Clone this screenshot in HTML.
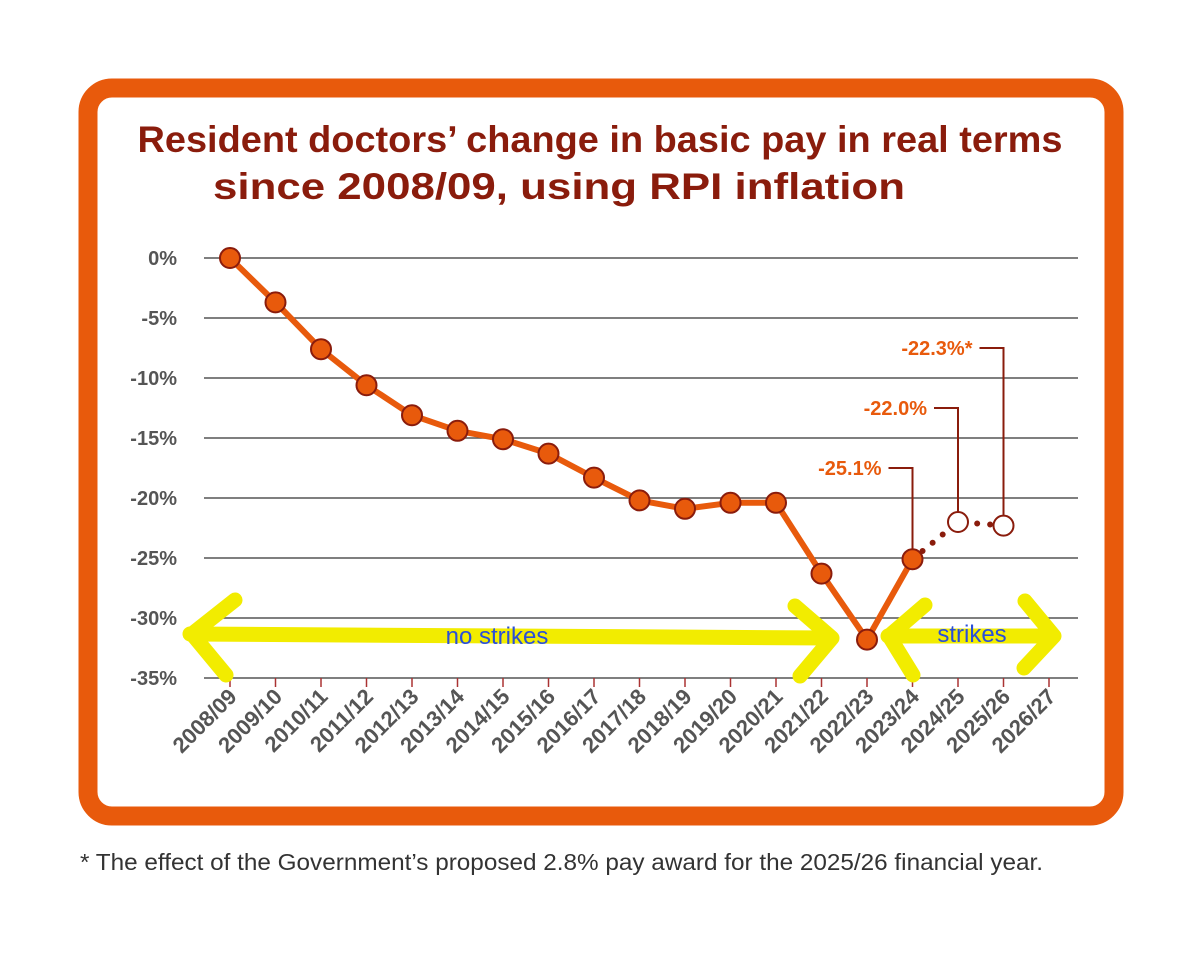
<!DOCTYPE html>
<html><head><meta charset="utf-8"><style>
body{margin:0;background:#fff;width:1200px;height:955px;overflow:hidden;font-family:"Liberation Sans",sans-serif}
</style></head><body>
<svg id="chart" width="1200" height="955" xmlns="http://www.w3.org/2000/svg">
<rect x="88" y="88" width="1026" height="728" rx="24" fill="#fff" stroke="#e85a0c" stroke-width="19"/>
<text x="600" y="152" text-anchor="middle" font-size="37" font-weight="bold" fill="#8a1c0c" textLength="925" lengthAdjust="spacingAndGlyphs">Resident doctors’ change in basic pay in real terms</text>
<text x="559" y="199" text-anchor="middle" font-size="37" font-weight="bold" fill="#8a1c0c" textLength="692" lengthAdjust="spacingAndGlyphs">since 2008/09, using RPI inflation</text>
<g id="grid"></g><g id="xaxis"></g><g id="arrows"></g><g id="series"></g><g id="annot"></g>
<text x="80" y="870" font-size="23" fill="#333" textLength="963" lengthAdjust="spacingAndGlyphs">* The effect of the Government’s proposed 2.8% pay award for the 2025/26 financial year.</text>
</svg>
<script>
const categories=["2008/09","2009/10","2010/11","2011/12","2012/13","2013/14","2014/15","2015/16","2016/17","2017/18","2018/19","2019/20","2020/21","2021/22","2022/23","2023/24","2024/25","2025/26","2026/27"];
const actualValues=[0,-3.7,-7.6,-10.6,-13.1,-14.4,-15.1,-16.3,-18.3,-20.2,-20.9,-20.4,-20.4,-26.3,-31.8,-25.1];
const projectedValues=[-22.0,-22.3];
const yTicks=[0,-5,-10,-15,-20,-25,-30,-35];
const annotLabels=["-25.1%","-22.0%","-22.3%*"];
const NS="http://www.w3.org/2000/svg";
const X=i=>230+i*45.5, Y=v=>258-v*12;
function mk(t,a,p){const e=document.createElementNS(NS,t);for(const k in a)e.setAttribute(k,a[k]);p.appendChild(e);return e;}
const grid=document.getElementById('grid');
yTicks.forEach(v=>{
 const l=mk('line',{x1:204,x2:1078,y1:Y(v),y2:Y(v),stroke:'#555','stroke-width':1.5},grid);
 
 
 const t=mk('text',{x:177,y:Y(v)+7,'text-anchor':'end','font-size':20,'font-weight':'bold',fill:'#555'},grid);
 t.textContent=v+'%';
 
 
});
const xa=document.getElementById('xaxis');
categories.forEach((c,i)=>{
 const tk=mk('line',{x1:X(i),x2:X(i),y1:Y(-35),y2:Y(-35)+9,stroke:'#a33','stroke-width':1.5},xa);
 
 
 const t=mk('text',{transform:`translate(${X(i)+8},${Y(-35)+20}) rotate(-45)`,'text-anchor':'end','font-size':22,'font-weight':'bold',fill:'#555'},xa);
 t.textContent=c;
 
 
});
const ar=document.getElementById('arrows');
const ys="#f2ec00";
[["M190,634 L830,638","M235,600 L192,634 L226,675","M795,606 L832,638 L800,676"],
 ["M888,636 L1052,636","M925,605 L889,636 L913,675","M1025,601 L1054,636 L1024,668"]].forEach((g,k)=>{
 g.forEach(d=>{const p=mk('path',{d:d,fill:'none',stroke:ys,'stroke-width':15,'stroke-linecap':'round','stroke-linejoin':'round'},ar);
 
 });
});
const t1=mk('text',{x:497,y:644,'text-anchor':'middle','font-size':24,fill:'#2a4fd8'},ar);t1.textContent='no strikes';


const t2=mk('text',{x:972,y:642,'text-anchor':'middle','font-size':24,fill:'#2a4fd8'},ar);t2.textContent='strikes';


const se=document.getElementById('series');
const pl=mk('polyline',{points:actualValues.map((v,i)=>X(i)+','+Y(v)).join(' '),fill:'none',stroke:'#e85a0c','stroke-width':6,'stroke-linejoin':'round'},se);


const n=actualValues.length;
const proj=[actualValues[n-1]].concat(projectedValues);
const dl=mk('polyline',{points:proj.map((v,i)=>X(n-1+i)+','+Y(v)).join(' '),fill:'none',stroke:'#8a1c0c','stroke-width':6,'stroke-linecap':'round','stroke-dasharray':'0 13'},se);


actualValues.forEach((v,i)=>{const c=mk('circle',{cx:X(i),cy:Y(v),r:10,fill:'#e85a0c',stroke:'#8a1c0c','stroke-width':2},se);
 
 });
projectedValues.forEach((v,i)=>{const c=mk('circle',{cx:X(n+i),cy:Y(v),r:10,fill:'#fff',stroke:'#8a1c0c','stroke-width':2},se);
 
 });
const an=document.getElementById('annot');
const annVals=[actualValues[n-1]].concat(projectedValues);
annVals.forEach((v,k)=>{
 const i=n-1+k, ly=468-k*60, x=X(i);
 const p=mk('path',{d:`M${x-24},${ly} L${x},${ly} L${x},${Y(v)-10}`,fill:'none',stroke:'#8a1c0c','stroke-width':2},an);
 
 
 const t=mk('text',{x:x-31,y:ly+7,'text-anchor':'end','font-size':20,'font-weight':'bold',fill:'#e85a0c'},an);
 t.textContent=annotLabels[k];
 
 
});
</script>
</body></html>
